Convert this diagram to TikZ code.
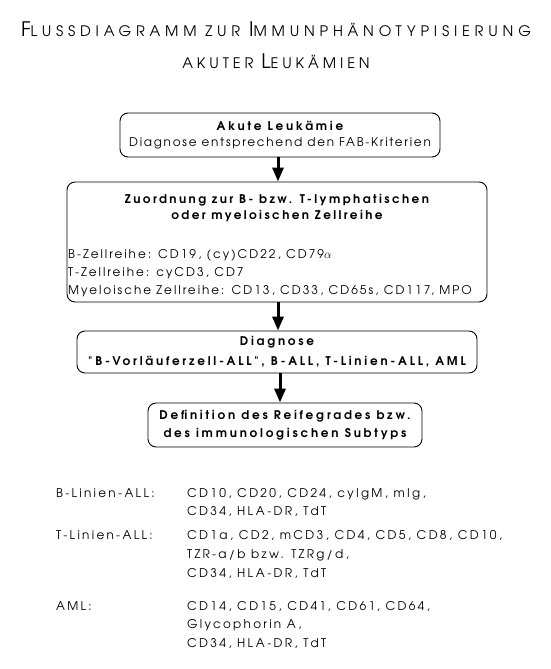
\documentclass[tikz,border=0pt]{standalone}
\usepackage{fontspec}
\setmainfont{texgyreadventor}[Extension=.otf, UprightFont=*-regular, BoldFont=*-bold, ItalicFont=*-italic, BoldItalicFont=*-bolditalic, LetterSpace=16.5]
\newfontfamily\bfam{texgyreadventor-bold.otf}[LetterSpace=23]
\newfontfamily\bfamz{texgyreadventor-bold.otf}[LetterSpace=20]
\newfontfamily\regb{texgyreadventor-regular.otf}[LetterSpace=14.5]
\newfontfamily\regl{texgyreadventor-regular.otf}[LetterSpace=19]
\newfontfamily\titlefa{texgyreadventor-regular.otf}[LetterSpace=33]
\newfontfamily\titlefb{texgyreadventor-regular.otf}[LetterSpace=27]
\usetikzlibrary{arrows.meta}
\newcommand{\tbig}[1]{{\fontsize{20}{20}\selectfont #1}}
\newcommand{\tsmall}[1]{{\fontsize{14.5}{14.5}\selectfont #1}}
\tikzset{
  box/.style={draw, rounded corners=8pt, line width=0.9pt, inner sep=0pt, align=center},
  flow/.style={line width=3pt, -{Triangle[width=11pt,length=14pt]}},
  txt/.style={inner sep=0pt, font=\fontsize{12}{16}\selectfont},
}
\begin{document}
\begin{tikzpicture}[x=1pt,y=-1pt]
\useasboundingbox (0,0) rectangle (550,669);
% title
\node[inner sep=0pt, anchor=base, font=\titlefa] (t1) at (276,37) {\tbig{F}\tsmall{LUSSDIAGRAMM ZUR }\tbig{I}\tsmall{MMUNPH\"ANOTYPISIERUNG}};
\node[inner sep=0pt, anchor=base, font=\titlefb] (t2) at (276,69) {\tsmall{AKUTER }\tbig{L}\tsmall{EUK\"AMIEN}};
% boxes
\node[box, minimum width=320pt, minimum height=44pt, font=\fontsize{12}{16}\selectfont\regb] (b1) at (280,135)
  {{\bfam Akute Leuk\"amie}\\Diagnose entsprechend den FAB-Kriterien};
\node[box, minimum width=420pt, minimum height=120pt] (b2) at (277,242) {};
\node[txt, align=center, font=\fontsize{12}{15.5}\selectfont\bfamz] (b2h) at (277,208)
  {Zuordnung zur B- bzw. T-lymphatischen\\oder myeloischen Zellreihe};
\node[txt, align=left, anchor=west, font=\fontsize{12}{18}\selectfont] (b2l) at (68,273)
  {B-Zellreihe: CD19, (cy)CD22, CD79$\alpha$\\T-Zellreihe: cyCD3, CD7\\Myeloische Zellreihe: CD13, CD33, CD65s, CD117, MPO};
\node[box, minimum width=400pt, minimum height=42pt, font=\fontsize{12}{20}\selectfont\bfam] (b3) at (277,352)
  {Diagnose\\"B-Vorl\"auferzell-ALL", B-ALL, T-Linien-ALL, AML};
\node[box, minimum width=274pt, minimum height=44pt, font=\fontsize{12}{18}\selectfont\bfam] (b4) at (285,425)
  {Definition des Reifegrades bzw.\\des immunologischen Subtyps};
% arrows
\draw[flow] (278,157) coordinate (a1s) -- (a1s |- b2.north);
\draw[flow] (278,302) coordinate (a2s) -- (a2s |- b3.north);
\draw[flow] (280,373) coordinate (a3s) -- (a3s |- b4.north);
% list
\begin{scope}[every node/.style={inner sep=0pt, anchor=base west, font=\fontsize{12}{12}\selectfont\regl}]
\node (l1) at (56,497) {B-Linien-ALL:};
\node (v1a) at (187,497) {CD10, CD20, CD24, cyIgM, mIg,};
\node (v1b) at (187,515) {CD34, HLA-DR, TdT};
\node (l2) at (56,539) {T-Linien-ALL:};
\node (v2a) at (187,539) {CD1a, CD2, mCD3, CD4, CD5, CD8, CD10,};
\node (v2b) at (187,558) {TZR-a/b bzw. TZRg/d,};
\node (v2c) at (187,577) {CD34, HLA-DR, TdT};
\node (l3) at (56,610) {AML:};
\node (v3a) at (187,610) {CD14, CD15, CD41, CD61, CD64,};
\node (v3b) at (187,628) {Glycophorin A,};
\node (v3c) at (187,647) {CD34, HLA-DR, TdT};
\end{scope}
\end{tikzpicture}
\end{document}
